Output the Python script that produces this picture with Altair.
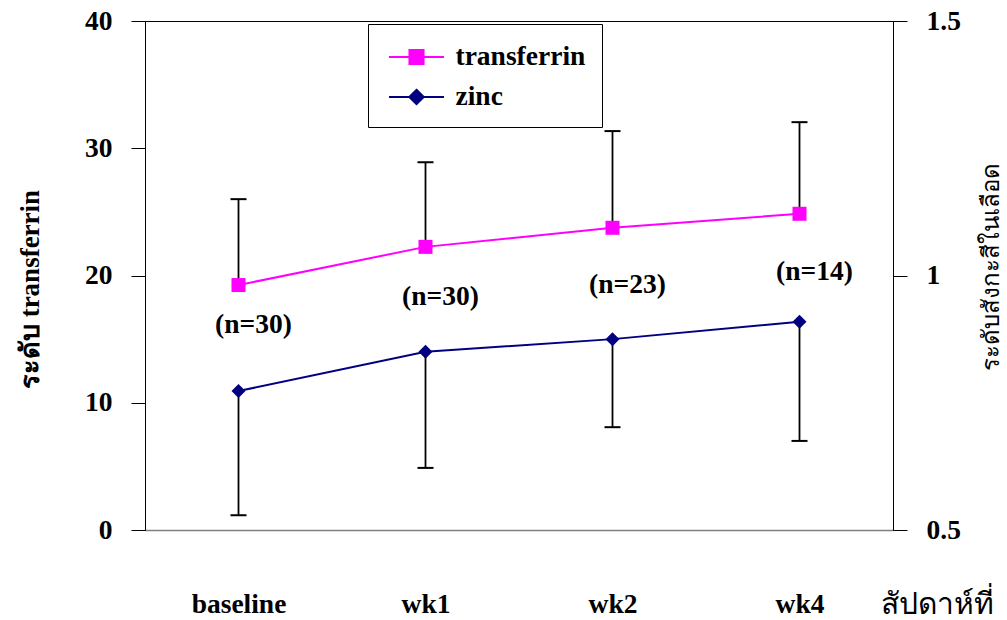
import altair as alt
import pandas as pd

# ---- data ----
weeks = ["baseline", "wk1", "wk2", "wk4"]
transferrin_mean = [19.25, 22.25, 23.75, 24.85]
transferrin_upper = [26.0, 28.9, 31.35, 32.05]
zinc_mean = [0.773, 0.850, 0.875, 0.909]
zinc_lower = [0.529, 0.622, 0.702, 0.675]
n_labels = ["(n=30)", "(n=30)", "(n=23)", "(n=14)"]
n_label_y = [16.1, 18.3, 19.25, 20.3]
series = ["transferrin", "zinc"]
series_colors = ["#FF00FF", "#000080"]
left_ticks = [0, 10, 20, 30, 40]
right_ticks = [0.5, 1, 1.5]

FONT = "Liberation Serif"
FS = 27.5

df_t = pd.DataFrame({"week": weeks, "mean": transferrin_mean,
                     "upper": transferrin_upper, "label": n_labels,
                     "label_y": n_label_y})
df_z = pd.DataFrame({"week": weeks, "mean": zinc_mean, "lower": zinc_lower})
df_s = pd.DataFrame({"series": series})

x_enc = alt.X(
    "week:N", sort=weeks,
    scale=alt.Scale(type="point", padding=0.5),
    axis=alt.Axis(
        title="สัปดาห์ที่", titleFont=FONT, titleFontSize=30,
        titleFontWeight="normal", titleColor="black",
        titleX=735, titleY=83, titleAlign="left", titleBaseline="alphabetic",
        labelFont=FONT, labelFontSize=FS, labelFontWeight="bold",
        labelColor="black", labelPadding=60, labelAngle=0,
        ticks=False, tickSize=0, domainColor="#808080", domainWidth=1.5,
        grid=False,
    ),
)

left_scale = alt.Scale(domain=[0, 40], nice=False, zero=False)
left_axis = alt.Axis(
    values=left_ticks, orient="left", grid=False,
    tickSize=14, tickColor="black", tickWidth=1,
    domainColor="black", domainWidth=1,
    labelFont=FONT, labelFontSize=FS, labelFontWeight="bold",
    labelColor="black", labelPadding=19,
    title="ระดับ transferrin", titleFont=FONT, titleFontSize=27,
    titleFontWeight="bold", titleColor="black", titlePadding=40,
    titleY=268,
)

right_scale = alt.Scale(domain=[0.5, 1.5], nice=False, zero=False)
right_axis = alt.Axis(
    values=right_ticks, orient="right", grid=False, format="~g",
    tickSize=14, tickColor="black", tickWidth=1,
    domainColor="black", domainWidth=1,
    labelFont=FONT, labelFontSize=FS, labelFontWeight="bold",
    labelColor="black", labelPadding=19,
    title="ระดับสังกะสีในเลือด", titleFont=FONT, titleFontSize=24,
    titleFontWeight="normal", titleColor="black", titlePadding=43,
    titleAngle=270, titleY=245,
)


def yl(field):
    return alt.Y(f"{field}:Q", scale=left_scale, axis=left_axis)


def yr(field):
    return alt.Y(f"{field}:Q", scale=right_scale, axis=right_axis)


# ---- transferrin (left axis) ----
base_t = alt.Chart(df_t)
t_rule = base_t.mark_rule(color="black", strokeWidth=1.8).encode(
    x=x_enc, y=yl("mean"), y2="upper:Q")
t_cap = base_t.mark_tick(color="black", size=16, thickness=2, opacity=1).encode(
    x=x_enc, y=yl("upper"))
t_line = base_t.mark_line(color=series_colors[0], strokeWidth=2).encode(
    x=x_enc, y=yl("mean"))
t_point = base_t.mark_point(shape="square", filled=True, size=196,
                            color=series_colors[0], opacity=1).encode(
    x=x_enc, y=yl("mean"))
t_text = base_t.mark_text(font=FONT, fontSize=FS, fontWeight="bold",
                          color="black", dx=15, align="center",
                          baseline="middle").encode(
    x=x_enc, y=yl("label_y"), text="label:N")

# legend carrier (invisible marks, legend only)
sq = "M-1.72,0H1.72M-0.44,-0.44H0.44V0.44H-0.44Z"
dm = "M-1.72,0H1.72M0,-0.45L0.45,0L0,0.45L-0.45,0Z"
legend_def = alt.Legend(
    orient="none", legendX=223, legendY=3, title=None,
    labelFont=FONT, labelFontSize=FS, labelFontWeight="bold",
    labelColor="black", labelOffset=22, symbolSize=1024, symbolOffset=15.5,
    symbolStrokeWidth=2, symbolOpacity=1, padding=16,
    strokeColor="black", fillColor="white", rowPadding=9,
)
legend_carrier = alt.Chart(df_s).mark_point(filled=False, opacity=0).encode(
    x=alt.value(-100), y=alt.value(-100),
    color=alt.Color("series:N", scale=alt.Scale(domain=series, range=series_colors), legend=legend_def),
    fill=alt.Fill("series:N", scale=alt.Scale(domain=series, range=series_colors), legend=legend_def),
    shape=alt.Shape("series:N", scale=alt.Scale(domain=series, range=[sq, dm]), legend=legend_def),
)

left = alt.layer(t_rule, t_cap, t_line, t_point, t_text, legend_carrier)

# ---- zinc (right axis) ----
base_z = alt.Chart(df_z)
z_rule = base_z.mark_rule(color="black", strokeWidth=1.8).encode(
    x=x_enc, y=yr("mean"), y2="lower:Q")
z_cap = base_z.mark_tick(color="black", size=16, thickness=2, opacity=1).encode(
    x=x_enc, y=yr("lower"))
z_line = base_z.mark_line(color=series_colors[1], strokeWidth=2).encode(
    x=x_enc, y=yr("mean"))
z_point = base_z.mark_point(shape="diamond", filled=True, size=196,
                            color=series_colors[1], opacity=1).encode(
    x=x_enc, y=yr("mean"))

right = alt.layer(z_rule, z_cap, z_line, z_point)

chart = alt.layer(left, right).resolve_scale(y="independent").properties(
    width=748, height=509,
    padding={"left": 145, "top": 21, "right": 114, "bottom": 90},
    autosize=alt.AutoSizeParams(type="none"),
    background="white",
).configure_view(stroke="black", strokeWidth=1)

chart.save("out.html", embed_options={"renderer": "svg", "actions": False})
